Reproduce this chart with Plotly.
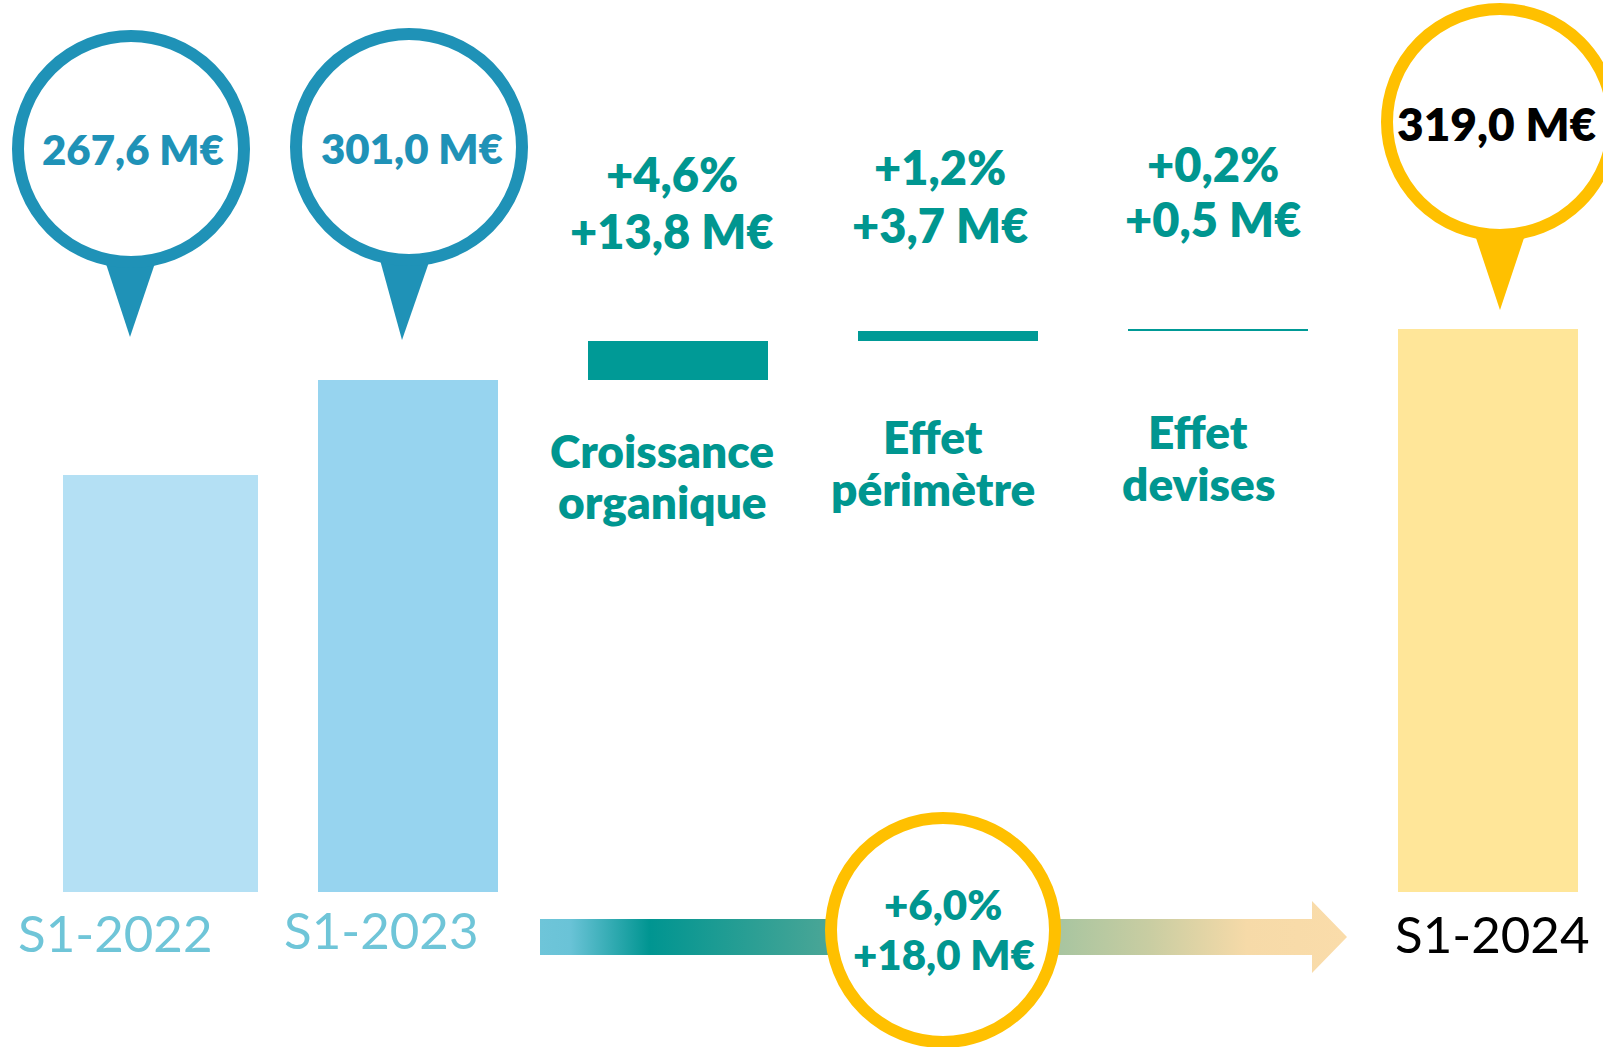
import plotly.graph_objects as go

# ---------------- data ----------------
period_labels = ["S1-2022", "S1-2023", "S1-2024"]
period_values = [267.6, 301.0, 319.0]

effect_keys = ["Croissance organique", "Effet périmètre", "Effet devises"]
effect_names = [("Croissance", "organique"), ("Effet", "périmètre"), ("Effet", "devises")]
effect_values = [13.8, 3.7, 0.5]
effect_pct = ["+4,6%", "+1,2%", "+0,2%"]

total_growth_pct = "+6,0%"
total_growth_value = 18.0


def fmt(v, sign=False):
    s = f"{v:.1f}".replace(".", ",") + " M€"
    return ("+" + s) if sign else s


# ---------------- styles ----------------
W, H = 1603, 1047
FONT = "Lato"
BOLD = 800
TEAL = "#009690"
PIN_BLUE = "#1F92B7"
GOLD = "#FFC000"
LABEL_BLUE = "#6FC5D8"
bar_colors = ["#B4E0F4", "#97D4EF", "#009A96", "#009A96", "#009A96", "#FFE699"]
bar_widths = [0.722, 0.667, 0.667, 0.667, 0.667, 0.667]
bar_offsets = [-0.278, -0.333, -0.333, -0.333, -0.333, -0.333]

# ---------------- bar geometry from data ----------------
categories = [period_labels[0], period_labels[1]] + effect_keys + [period_labels[2]]
y_vals = [period_values[0], period_values[1]] + effect_values + [period_values[2]]
bases = [0, 0]
running = period_values[1]
for v in effect_values:
    bases.append(running)
    running += v
bases.append(0)

fig = go.Figure()
fig.add_trace(go.Bar(
    x=categories, y=y_vals, base=bases,
    width=bar_widths, offset=bar_offsets,
    marker=dict(color=bar_colors, line=dict(width=0)),
    hoverinfo="skip", showlegend=False,
    xaxis="x", yaxis="y",
))

# gradient arrow (decoration, pixel space on x2/y2)
ax = [540, 1312, 1312, 1347, 1312, 1312, 540, 540]
ay = [919, 919, 901, 937, 973, 955, 955, 919]
fig.add_trace(go.Scatter(
    x=ax, y=ay, xaxis="x2", yaxis="y2", mode="none", fill="toself",
    fillgradient=dict(type="horizontal", colorscale=[
        [0.0, "#6EC5D9"], [0.037, "#6AC3D7"], [0.136, "#009591"],
        [0.347, "#47A596"], [0.647, "#A9C5A0"], [0.756, "#C9CDA2"],
        [0.876, "#F6DAA8"], [1.0, "#FADCAA"]]),
    hoverinfo="skip", showlegend=False,
))

shapes = []
annotations = []

# pins
R_OUT, RING = 119, 12
pins = [
    (131, 149, 130, 337, PIN_BLUE),
    (409, 147, 402, 340, PIN_BLUE),
    (1500, 122, 1500, 310, GOLD),
]
for cx, cy, tx, ty, col in pins:
    yb = cy + 95
    hw = 23 * (ty - yb) / (ty - cy - R_OUT)
    bx = cx + (tx - cx) * (yb - cy) / (ty - cy)
    shapes.append(dict(type="path", xref="x2", yref="y2", layer="above",
                       path=f"M {bx-hw},{yb} L {tx},{ty} L {bx+hw},{yb} Z",
                       fillcolor=col, line=dict(width=0)))
    r = R_OUT - RING / 2
    shapes.append(dict(type="circle", xref="x2", yref="y2", layer="above",
                       x0=cx - r, x1=cx + r, y0=cy - r, y1=cy + r,
                       fillcolor="white", line=dict(color=col, width=RING)))

# bottom total growth circle
bcx, bcy = 943, 930
r = 118 - RING / 2
shapes.append(dict(type="circle", xref="x2", yref="y2", layer="above",
                   x0=bcx - r, x1=bcx + r, y0=bcy - r, y1=bcy + r,
                   fillcolor="white", line=dict(color=GOLD, width=RING)))


def ann(text, x, y, size, color, weight=BOLD, xref="x2", xshift=0):
    annotations.append(dict(
        text=text, x=x, y=y, xref=xref, yref="y2", xshift=xshift,
        showarrow=False, xanchor="center", yanchor="middle",
        font=dict(family=FONT, size=size, color=color, weight=weight)))


# pin texts
ann(fmt(period_values[0]), 133, 149, 42, PIN_BLUE)
ann(fmt(period_values[1]), 412, 148, 42, PIN_BLUE)
ann(fmt(period_values[2]), 1497, 123, 46, "black")

# effect texts (x tied to categories)
pct_y = [174, 167, 164]
val_y = [231, 225, 219]
num_shift = [-6, -8, -5]
name1_y = [450, 436, 431]
name2_y = [501, 488, 483]
name_shift = [-16, -15, -20]
for i, key in enumerate(effect_keys):
    ann(effect_pct[i], key, pct_y[i], 47, TEAL, xref="x", xshift=num_shift[i])
    ann(fmt(effect_values[i], sign=True), key, val_y[i], 47, TEAL, xref="x", xshift=num_shift[i])
    ann(effect_names[i][0], key, name1_y[i], 46, TEAL, xref="x", xshift=name_shift[i])
    ann(effect_names[i][1], key, name2_y[i], 46, TEAL, xref="x", xshift=name_shift[i])

# total growth
ann(total_growth_pct, bcx, 904, 42, TEAL)
ann(fmt(total_growth_value, sign=True), bcx + 1, 954, 42, TEAL)

# period labels
lab_y = [932, 929, 933]
lab_shift = [-23, -27, 4]
lab_col = [LABEL_BLUE, LABEL_BLUE, "black"]
for i, lab in enumerate(period_labels):
    ann(lab, lab, lab_y[i], 51, lab_col[i], weight=400, xref="x", xshift=lab_shift[i])

x_px0 = 138.0
step = 270.0
fig.update_layout(
    width=W, height=H,
    margin=dict(l=0, r=0, t=0, b=0),
    paper_bgcolor="white", plot_bgcolor="rgba(0,0,0,0)",
    showlegend=False, hovermode=False,
    xaxis=dict(type="category", categoryorder="array", categoryarray=categories,
               range=[-x_px0 / step, (W - x_px0) / step], domain=[0, 1],
               visible=False, fixedrange=True, anchor="y"),
    yaxis=dict(range=[120.81, 435.0], domain=[155 / H, 1], visible=False,
               fixedrange=True, anchor="x"),
    xaxis2=dict(range=[0, W], domain=[0, 1], visible=False, anchor="y2", fixedrange=True),
    yaxis2=dict(range=[H, 0], domain=[0, 1], visible=False, anchor="x2", fixedrange=True),
    shapes=shapes, annotations=annotations,
    bargap=0,
)

fig.write_html("out.html", config={"displayModeBar": False},
               post_script="document.body.style.margin='0';document.body.style.overflow='hidden';")
